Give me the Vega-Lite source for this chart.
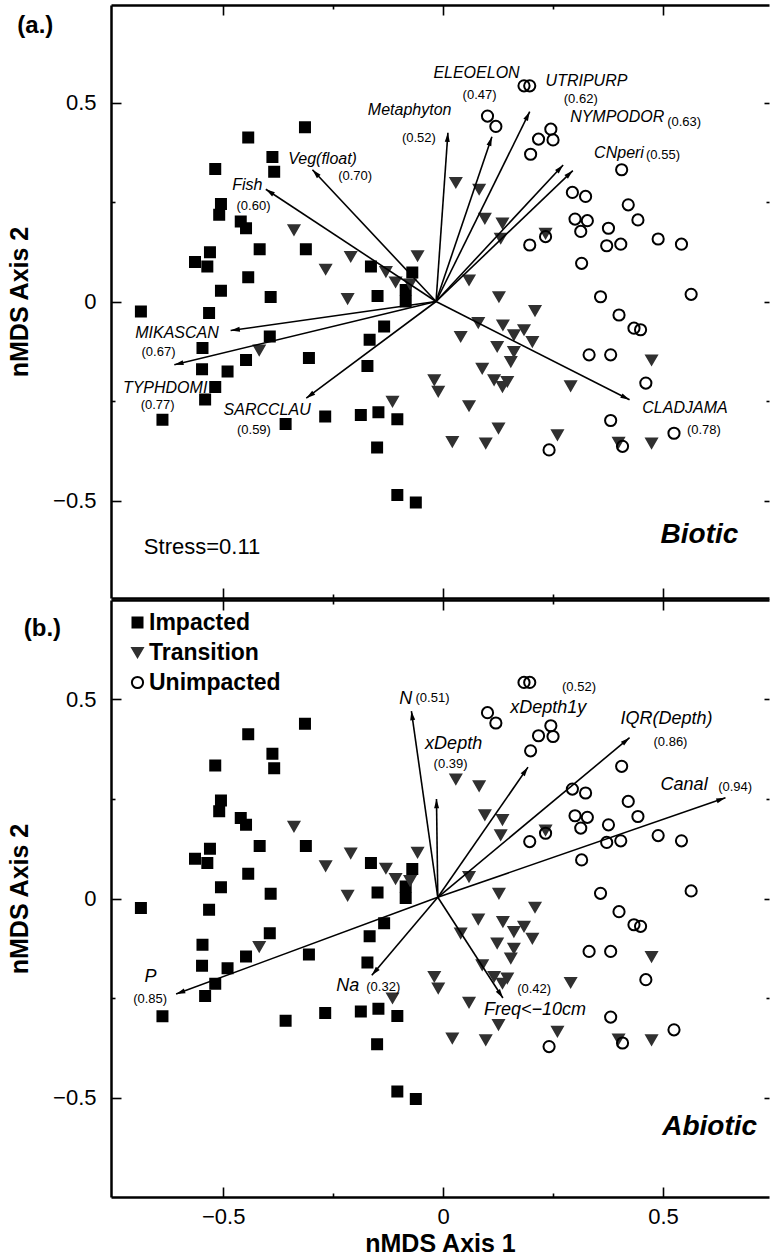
{
  "$schema": "https://vega.github.io/schema/vega-lite/v6.json",
  "padding": {"left": 7, "top": 4, "right": 0, "bottom": 0},
  "background": "white",
  "config": {
    "font": "Liberation Sans",
    "view": {"stroke": null},
    "axis": {"grid": false, "domainColor": "black", "domainWidth": 2.5, "tickColor": "black", "tickWidth": 1.6, "labelColor": "black", "titleColor": "black", "labelFontSize": 22, "titleFontSize": 25, "titleFontWeight": "bold", "labelFont": "Liberation Sans", "titleFont": "Liberation Sans"},
    "legend": {"orient": "none", "legendX": 15, "legendY": 11, "title": null, "labelFontSize": 23, "labelFontWeight": "bold", "labelColor": "black", "labelFont": "Liberation Sans", "labelOffset": 0, "rowPadding": 6, "symbolStrokeWidth": 2, "padding": 0},
    "text": {"color": "black", "font": "Liberation Sans"}
  },
  "datasets": {
    "pts": [
      {"group":"Impacted","x":-0.314,"y":0.439},{"group":"Impacted","x":-0.443,"y":0.413},{"group":"Impacted","x":-0.388,"y":0.364},{"group":"Impacted","x":-0.384,"y":0.327},{"group":"Impacted","x":-0.518,"y":0.334},{"group":"Impacted","x":-0.505,"y":0.246},{"group":"Impacted","x":-0.509,"y":0.219},{"group":"Impacted","x":-0.46,"y":0.202},{"group":"Impacted","x":-0.448,"y":0.185},{"group":"Impacted","x":-0.417,"y":0.132},{"group":"Impacted","x":-0.312,"y":0.132},{"group":"Impacted","x":-0.53,"y":0.125},{"group":"Impacted","x":-0.564,"y":0.1},{"group":"Impacted","x":-0.536,"y":0.089},{"group":"Impacted","x":-0.443,"y":0.062},{"group":"Impacted","x":-0.505,"y":0.028},{"group":"Impacted","x":-0.392,"y":0.012},{"group":"Impacted","x":-0.164,"y":0.089},{"group":"Impacted","x":-0.149,"y":0.015},{"group":"Impacted","x":-0.687,"y":-0.024},{"group":"Impacted","x":-0.532,"y":-0.028},{"group":"Impacted","x":-0.07,"y":0.074},{"group":"Impacted","x":-0.085,"y":0.03},{"group":"Impacted","x":-0.085,"y":0.001},{"group":"Impacted","x":-0.394,"y":-0.087},{"group":"Impacted","x":-0.134,"y":-0.062},{"group":"Impacted","x":-0.167,"y":-0.095},{"group":"Impacted","x":-0.547,"y":-0.116},{"group":"Impacted","x":-0.448,"y":-0.146},{"group":"Impacted","x":-0.305,"y":-0.141},{"group":"Impacted","x":-0.548,"y":-0.169},{"group":"Impacted","x":-0.49,"y":-0.175},{"group":"Impacted","x":-0.172,"y":-0.161},{"group":"Impacted","x":-0.518,"y":-0.214},{"group":"Impacted","x":-0.541,"y":-0.245},{"group":"Impacted","x":-0.638,"y":-0.296},{"group":"Impacted","x":-0.358,"y":-0.307},{"group":"Impacted","x":-0.268,"y":-0.288},{"group":"Impacted","x":-0.187,"y":-0.284},{"group":"Impacted","x":-0.147,"y":-0.277},{"group":"Impacted","x":-0.104,"y":-0.295},{"group":"Impacted","x":-0.15,"y":-0.366},{"group":"Impacted","x":-0.104,"y":-0.485},{"group":"Impacted","x":-0.062,"y":-0.504},
      {"group":"Transition","x":-0.339,"y":0.181},{"group":"Transition","x":-0.21,"y":0.114},{"group":"Transition","x":-0.267,"y":0.082},{"group":"Transition","x":-0.217,"y":0.008},{"group":"Transition","x":-0.13,"y":0.076},{"group":"Transition","x":0.029,"y":0.3},{"group":"Transition","x":0.082,"y":0.283},{"group":"Transition","x":0.095,"y":0.21},{"group":"Transition","x":0.135,"y":0.198},{"group":"Transition","x":0.131,"y":0.16},{"group":"Transition","x":0.059,"y":0.055},{"group":"Transition","x":0.127,"y":0.013},{"group":"Transition","x":-0.058,"y":0.116},{"group":"Transition","x":-0.108,"y":0.05},{"group":"Transition","x":-0.075,"y":0.045},{"group":"Transition","x":0.209,"y":-0.022},{"group":"Transition","x":0.233,"y":0.172},{"group":"Transition","x":0.08,"y":-0.052},{"group":"Transition","x":0.04,"y":-0.087},{"group":"Transition","x":0.136,"y":-0.058},{"group":"Transition","x":0.161,"y":-0.083},{"group":"Transition","x":0.184,"y":-0.07},{"group":"Transition","x":0.203,"y":-0.1},{"group":"Transition","x":0.123,"y":-0.112},{"group":"Transition","x":0.161,"y":-0.125},{"group":"Transition","x":0.154,"y":-0.15},{"group":"Transition","x":0.089,"y":-0.167},{"group":"Transition","x":0.116,"y":-0.196},{"group":"Transition","x":0.146,"y":-0.2},{"group":"Transition","x":0.135,"y":-0.213},{"group":"Transition","x":0.29,"y":-0.211},{"group":"Transition","x":-0.02,"y":-0.196},{"group":"Transition","x":-0.011,"y":-0.225},{"group":"Transition","x":0.059,"y":-0.261},{"group":"Transition","x":0.126,"y":-0.317},{"group":"Transition","x":0.021,"y":-0.351},{"group":"Transition","x":0.097,"y":-0.355},{"group":"Transition","x":0.26,"y":-0.334},{"group":"Transition","x":0.399,"y":-0.353},{"group":"Transition","x":0.474,"y":-0.355},{"group":"Transition","x":0.474,"y":-0.146},{"group":"Transition","x":-0.115,"y":-0.25},{"group":"Transition","x":-0.418,"y":-0.121},
      {"group":"Unimpacted","x":0.101,"y":0.467},{"group":"Unimpacted","x":0.12,"y":0.441},{"group":"Unimpacted","x":0.184,"y":0.543},{"group":"Unimpacted","x":0.197,"y":0.543},{"group":"Unimpacted","x":0.245,"y":0.434},{"group":"Unimpacted","x":0.217,"y":0.409},{"group":"Unimpacted","x":0.25,"y":0.407},{"group":"Unimpacted","x":0.199,"y":0.371},{"group":"Unimpacted","x":0.406,"y":0.332},{"group":"Unimpacted","x":0.294,"y":0.275},{"group":"Unimpacted","x":0.324,"y":0.265},{"group":"Unimpacted","x":0.421,"y":0.244},{"group":"Unimpacted","x":0.443,"y":0.206},{"group":"Unimpacted","x":0.3,"y":0.208},{"group":"Unimpacted","x":0.328,"y":0.204},{"group":"Unimpacted","x":0.313,"y":0.177},{"group":"Unimpacted","x":0.376,"y":0.185},{"group":"Unimpacted","x":0.372,"y":0.141},{"group":"Unimpacted","x":0.404,"y":0.145},{"group":"Unimpacted","x":0.489,"y":0.158},{"group":"Unimpacted","x":0.542,"y":0.145},{"group":"Unimpacted","x":0.315,"y":0.097},{"group":"Unimpacted","x":0.358,"y":0.013},{"group":"Unimpacted","x":0.564,"y":0.019},{"group":"Unimpacted","x":0.4,"y":-0.033},{"group":"Unimpacted","x":0.197,"y":0.143},{"group":"Unimpacted","x":0.233,"y":0.164},{"group":"Unimpacted","x":0.434,"y":-0.066},{"group":"Unimpacted","x":0.449,"y":-0.07},{"group":"Unimpacted","x":0.332,"y":-0.133},{"group":"Unimpacted","x":0.381,"y":-0.133},{"group":"Unimpacted","x":0.461,"y":-0.204},{"group":"Unimpacted","x":0.381,"y":-0.298},{"group":"Unimpacted","x":0.525,"y":-0.33},{"group":"Unimpacted","x":0.408,"y":-0.363},{"group":"Unimpacted","x":0.241,"y":-0.372}
    ],
    "vecA": [
      {"name":"Metaphyton","r":"(0.52)","ox":-0.016,"oy":0.001,"x":0.011,"y":0.425,"lx":-0.076,"ly":0.482,"rx":-0.055,"ry":0.411},
      {"name":"ELEOELON","r":"(0.47)","ox":-0.016,"oy":0.001,"x":0.111,"y":0.415,"lx":0.076,"ly":0.574,"rx":0.083,"ry":0.52},
      {"name":"UTRIPURP","r":"(0.62)","ox":-0.016,"oy":0.001,"x":0.197,"y":0.478,"lx":0.326,"ly":0.555,"rx":0.313,"ry":0.51},
      {"name":"NYMPODOR","r":"(0.63)","ox":-0.016,"oy":0.001,"x":0.273,"y":0.344,"lx":0.396,"ly":0.465,"rx":0.548,"ry":0.452},
      {"name":"CNperi","r":"(0.55)","ox":-0.016,"oy":0.001,"x":0.295,"y":0.33,"lx":0.4,"ly":0.374,"rx":0.5,"ry":0.37},
      {"name":"CLADJAMA","r":"(0.78)","ox":-0.016,"oy":0.001,"x":0.424,"y":-0.246,"lx":0.55,"ly":-0.267,"rx":0.593,"ry":-0.322},
      {"name":"Veg(float)","r":"(0.70)","ox":-0.016,"oy":0.001,"x":-0.297,"y":0.332,"lx":-0.274,"ly":0.359,"rx":-0.2,"ry":0.317},
      {"name":"Fish","r":"(0.60)","ox":-0.016,"oy":0.001,"x":-0.403,"y":0.283,"lx":-0.445,"ly":0.294,"rx":-0.431,"ry":0.241},
      {"name":"MIKASCAN","r":"(0.67)","ox":-0.016,"oy":0.001,"x":-0.483,"y":-0.072,"lx":-0.605,"ly":-0.079,"rx":-0.647,"ry":-0.127},
      {"name":"TYPHDOMI","r":"(0.77)","ox":-0.016,"oy":0.001,"x":-0.611,"y":-0.158,"lx":-0.632,"ly":-0.217,"rx":-0.649,"ry":-0.259},
      {"name":"SARCCLAU","r":"(0.59)","ox":-0.016,"oy":0.001,"x":-0.311,"y":-0.242,"lx":-0.4,"ly":-0.271,"rx":-0.43,"ry":-0.323}
    ],
    "vecB": [
      {"name":"N","r":"(0.51)","ox":-0.012,"oy":0.003,"x":-0.072,"y":0.471,"lx":-0.085,"ly":0.502,"rx":-0.024,"ry":0.504},
      {"name":"xDepth","r":"(0.39)","ox":-0.012,"oy":0.003,"x":-0.015,"y":0.25,"lx":0.024,"ly":0.389,"rx":0.017,"ry":0.337},
      {"name":"xDepth1y","r":"(0.52)","ox":-0.012,"oy":0.003,"x":0.193,"y":0.33,"lx":0.239,"ly":0.479,"rx":0.309,"ry":0.531},
      {"name":"IQR(Depth)","r":"(0.86)","ox":-0.012,"oy":0.003,"x":0.424,"y":0.404,"lx":0.508,"ly":0.451,"rx":0.517,"ry":0.393},
      {"name":"Canal","r":"(0.94)","ox":-0.012,"oy":0.003,"x":0.642,"y":0.253,"lx":0.548,"ly":0.286,"rx":0.664,"ry":0.281},
      {"name":"P","r":"(0.85)","ox":-0.012,"oy":0.003,"x":-0.607,"y":-0.24,"lx":-0.665,"ly":-0.198,"rx":-0.666,"ry":-0.252},
      {"name":"Na","r":"(0.32)","ox":-0.012,"oy":0.003,"x":-0.162,"y":-0.193,"lx":-0.217,"ly":-0.221,"rx":-0.136,"ry":-0.223},
      {"name":"Freq<−10cm","r":"(0.42)","ox":-0.012,"oy":0.003,"x":0.136,"y":-0.25,"lx":0.209,"ly":-0.281,"rx":0.207,"ry":-0.227}
    ]
  },
  "spacing": 0,
  "resolve": {"legend": {"shape": "independent", "fill": "independent", "stroke": "independent", "size": "independent"}},
  "vconcat": [
    {
      "width": 658,
      "height": 593,
      "resolve": {"axis": {"x": "independent", "y": "independent"}},
      "layer": [
        {
          "data": {"name": "pts"},
          "mark": {"type": "point", "opacity": 1, "strokeWidth": 2},
          "encoding": {
            "x": {"field": "x", "type": "quantitative", "scale": {"domain": [-0.755, 0.741], "nice": false, "zero": false},
                  "axis": {"orient": "bottom", "values": [-0.5, 0, 0.5], "labels": false, "tickSize": -10, "domain": true, "title": null}},
            "y": {"field": "y", "type": "quantitative", "scale": {"domain": [-0.744, 0.746], "nice": false, "zero": false},
                  "axis": {"orient": "left", "values": [-0.5, 0, 0.5], "format": "~g", "tickSize": -10, "labelPadding": 25, "domain": true, "title": "nMDS Axis 2", "titlePadding": 20}},
            "shape": {"field": "group", "type": "nominal", "scale": {"domain": ["Impacted", "Transition", "Unimpacted"], "range": ["square", "triangle-down", "circle"]}, "legend": null},
            "fill": {"field": "group", "type": "nominal", "scale": {"domain": ["Impacted", "Transition", "Unimpacted"], "range": ["black", "#303030", "transparent"]}, "legend": null},
            "stroke": {"field": "group", "type": "nominal", "scale": {"domain": ["Impacted", "Transition", "Unimpacted"], "range": ["black", "#303030", "black"]}, "legend": null},
            "size": {"field": "group", "type": "nominal", "scale": {"domain": ["Impacted", "Transition", "Unimpacted"], "range": [100, 125, 195]}, "legend": null}
          }
        },
        {
          "data": {"name": "vecA"},
          "mark": {"type": "rule", "color": "black", "strokeWidth": 1.6},
          "encoding": {
            "x": {"field": "ox", "type": "quantitative", "scale": {"domain": [-0.755, 0.741], "nice": false, "zero": false},
                  "axis": {"orient": "top", "values": [-0.5, 0, 0.5], "labels": false, "tickSize": -10, "domain": true, "title": null}},
            "y": {"field": "oy", "type": "quantitative", "scale": {"domain": [-0.744, 0.746], "nice": false, "zero": false},
                  "axis": {"orient": "right", "values": [-0.5, 0, 0.5], "labels": false, "tickSize": -5, "domain": false, "title": null}},
            "x2": {"field": "x"},
            "y2": {"field": "y"}
          }
        },
        {
          "data": {"name": "vecA"},
          "transform": [{"calculate": "atan2((datum.x - datum.ox) * 440, (datum.y - datum.oy) * 398) * 180 / PI", "as": "ang"}],
          "mark": {"type": "point", "shape": "M0,0L0.6,2.2L-0.6,2.2Z", "filled": true, "color": "black", "opacity": 1, "size": 70},
          "encoding": {
            "x": {"field": "x", "type": "quantitative", "scale": {"domain": [-0.755, 0.741], "nice": false, "zero": false},
                  "axis": {"orient": "bottom", "values": [-0.25, 0.25], "labels": false, "tickSize": -4, "domain": false, "title": null}},
            "y": {"field": "y", "type": "quantitative", "scale": {"domain": [-0.744, 0.746], "nice": false, "zero": false},
                  "axis": {"orient": "left", "values": [-0.25, 0.25], "labels": false, "tickSize": -4, "domain": false, "title": null}},
            "angle": {"field": "ang", "type": "quantitative", "scale": null}
          }
        },
        {
          "data": {"name": "vecA"},
          "mark": {"type": "text", "fontSize": 16, "fontStyle": "italic", "align": "center", "baseline": "middle"},
          "encoding": {
            "x": {"field": "lx", "type": "quantitative", "scale": {"domain": [-0.755, 0.741], "nice": false, "zero": false},
                  "axis": {"orient": "top", "values": [-0.25, 0.25], "labels": false, "tickSize": -4, "domain": false, "title": null}},
            "y": {"field": "ly", "type": "quantitative", "scale": {"domain": [-0.744, 0.746], "nice": false, "zero": false},
                  "axis": {"orient": "right", "values": [-0.25, 0.25], "labels": false, "tickSize": -3, "domain": false, "title": null}},
            "text": {"field": "name"}
          }
        },
        {
          "data": {"name": "vecA"},
          "mark": {"type": "text", "fontSize": 13, "align": "center", "baseline": "middle"},
          "encoding": {
            "x": {"field": "rx", "type": "quantitative", "scale": {"domain": [-0.755, 0.741], "nice": false, "zero": false}, "axis": null},
            "y": {"field": "ry", "type": "quantitative", "scale": {"domain": [-0.744, 0.746], "nice": false, "zero": false}, "axis": null},
            "text": {"field": "r"}
          }
        },
        {
          "data": {"values": [{"t": "(a.)", "x": -0.927, "y": 0.693}]},
          "mark": {"type": "text", "fontSize": 24, "fontWeight": "bold", "align": "center", "baseline": "middle"},
          "encoding": {
            "x": {"field": "x", "type": "quantitative", "scale": {"domain": [-0.755, 0.741], "nice": false, "zero": false}, "axis": null},
            "y": {"field": "y", "type": "quantitative", "scale": {"domain": [-0.744, 0.746], "nice": false, "zero": false}, "axis": null},
            "text": {"field": "t"}
          }
        },
        {
          "data": {"values": [{"t": "Stress=0.11", "x": -0.548, "y": -0.615}]},
          "mark": {"type": "text", "fontSize": 22, "align": "center", "baseline": "middle"},
          "encoding": {
            "x": {"field": "x", "type": "quantitative", "scale": {"domain": [-0.755, 0.741], "nice": false, "zero": false}, "axis": null},
            "y": {"field": "y", "type": "quantitative", "scale": {"domain": [-0.744, 0.746], "nice": false, "zero": false}, "axis": null},
            "text": {"field": "t"}
          }
        },
        {
          "data": {"values": [{"t": "Biotic", "x": 0.583, "y": -0.585}]},
          "mark": {"type": "text", "fontSize": 28, "fontWeight": "bold", "fontStyle": "italic", "align": "center", "baseline": "middle"},
          "encoding": {
            "x": {"field": "x", "type": "quantitative", "scale": {"domain": [-0.755, 0.741], "nice": false, "zero": false}, "axis": null},
            "y": {"field": "y", "type": "quantitative", "scale": {"domain": [-0.744, 0.746], "nice": false, "zero": false}, "axis": null},
            "text": {"field": "t"}
          }
        }
      ]
    },
    {
      "width": 658,
      "height": 597,
      "resolve": {"axis": {"x": "independent", "y": "independent"}},
      "layer": [
        {
          "data": {"name": "pts"},
          "mark": {"type": "point", "opacity": 1, "strokeWidth": 2},
          "encoding": {
            "x": {"field": "x", "type": "quantitative", "scale": {"domain": [-0.755, 0.741], "nice": false, "zero": false},
                  "axis": {"orient": "bottom", "values": [-0.5, 0, 0.5], "format": "~g", "tickSize": -10, "labelPadding": 19, "domain": true, "title": "nMDS Axis 1", "titlePadding": 4}},
            "y": {"field": "y", "type": "quantitative", "scale": {"domain": [-0.75, 0.75], "nice": false, "zero": false},
                  "axis": {"orient": "left", "values": [-0.5, 0, 0.5], "format": "~g", "tickSize": -10, "labelPadding": 25, "domain": true, "title": "nMDS Axis 2", "titlePadding": 20}},
            "shape": {"field": "group", "type": "nominal", "scale": {"domain": ["Impacted", "Transition", "Unimpacted"], "range": ["square", "triangle-down", "circle"]}},
            "fill": {"field": "group", "type": "nominal", "scale": {"domain": ["Impacted", "Transition", "Unimpacted"], "range": ["black", "#303030", "transparent"]}},
            "stroke": {"field": "group", "type": "nominal", "scale": {"domain": ["Impacted", "Transition", "Unimpacted"], "range": ["black", "#303030", "black"]}},
            "size": {"field": "group", "type": "nominal", "scale": {"domain": ["Impacted", "Transition", "Unimpacted"], "range": [100, 125, 195]}}
          }
        },
        {
          "data": {"name": "vecB"},
          "mark": {"type": "rule", "color": "black", "strokeWidth": 1.6},
          "encoding": {
            "x": {"field": "ox", "type": "quantitative", "scale": {"domain": [-0.755, 0.741], "nice": false, "zero": false},
                  "axis": {"orient": "top", "values": [-0.5, 0, 0.5], "labels": false, "tickSize": -10, "domain": true, "title": null}},
            "y": {"field": "oy", "type": "quantitative", "scale": {"domain": [-0.75, 0.75], "nice": false, "zero": false},
                  "axis": {"orient": "right", "values": [-0.5, 0, 0.5], "labels": false, "tickSize": -5, "domain": false, "title": null}},
            "x2": {"field": "x"},
            "y2": {"field": "y"}
          }
        },
        {
          "data": {"name": "vecB"},
          "transform": [{"calculate": "atan2((datum.x - datum.ox) * 440, (datum.y - datum.oy) * 398) * 180 / PI", "as": "ang"}],
          "mark": {"type": "point", "shape": "M0,0L0.6,2.2L-0.6,2.2Z", "filled": true, "color": "black", "opacity": 1, "size": 70},
          "encoding": {
            "x": {"field": "x", "type": "quantitative", "scale": {"domain": [-0.755, 0.741], "nice": false, "zero": false},
                  "axis": {"orient": "bottom", "values": [-0.25, 0.25], "labels": false, "tickSize": -4, "domain": false, "title": null}},
            "y": {"field": "y", "type": "quantitative", "scale": {"domain": [-0.75, 0.75], "nice": false, "zero": false},
                  "axis": {"orient": "left", "values": [-0.25, 0.25], "labels": false, "tickSize": -4, "domain": false, "title": null}},
            "angle": {"field": "ang", "type": "quantitative", "scale": null}
          }
        },
        {
          "data": {"name": "vecB"},
          "mark": {"type": "text", "fontSize": 18, "fontStyle": "italic", "align": "center", "baseline": "middle"},
          "encoding": {
            "x": {"field": "lx", "type": "quantitative", "scale": {"domain": [-0.755, 0.741], "nice": false, "zero": false},
                  "axis": {"orient": "top", "values": [-0.25, 0.25], "labels": false, "tickSize": -4, "domain": false, "title": null}},
            "y": {"field": "ly", "type": "quantitative", "scale": {"domain": [-0.75, 0.75], "nice": false, "zero": false},
                  "axis": {"orient": "right", "values": [-0.25, 0.25], "labels": false, "tickSize": -3, "domain": false, "title": null}},
            "text": {"field": "name"}
          }
        },
        {
          "data": {"name": "vecB"},
          "mark": {"type": "text", "fontSize": 13, "align": "center", "baseline": "middle"},
          "encoding": {
            "x": {"field": "rx", "type": "quantitative", "scale": {"domain": [-0.755, 0.741], "nice": false, "zero": false}, "axis": null},
            "y": {"field": "ry", "type": "quantitative", "scale": {"domain": [-0.75, 0.75], "nice": false, "zero": false}, "axis": null},
            "text": {"field": "r"}
          }
        },
        {
          "data": {"values": [{"t": "(b.)", "x": -0.911, "y": 0.676}]},
          "mark": {"type": "text", "fontSize": 24, "fontWeight": "bold", "align": "center", "baseline": "middle"},
          "encoding": {
            "x": {"field": "x", "type": "quantitative", "scale": {"domain": [-0.755, 0.741], "nice": false, "zero": false}, "axis": null},
            "y": {"field": "y", "type": "quantitative", "scale": {"domain": [-0.75, 0.75], "nice": false, "zero": false}, "axis": null},
            "text": {"field": "t"}
          }
        },
        {
          "data": {"values": [{"t": "Abiotic", "x": 0.606, "y": -0.575}]},
          "mark": {"type": "text", "fontSize": 28, "fontWeight": "bold", "fontStyle": "italic", "align": "center", "baseline": "middle"},
          "encoding": {
            "x": {"field": "x", "type": "quantitative", "scale": {"domain": [-0.755, 0.741], "nice": false, "zero": false}, "axis": null},
            "y": {"field": "y", "type": "quantitative", "scale": {"domain": [-0.75, 0.75], "nice": false, "zero": false}, "axis": null},
            "text": {"field": "t"}
          }
        }
      ]
    }
  ]
}
